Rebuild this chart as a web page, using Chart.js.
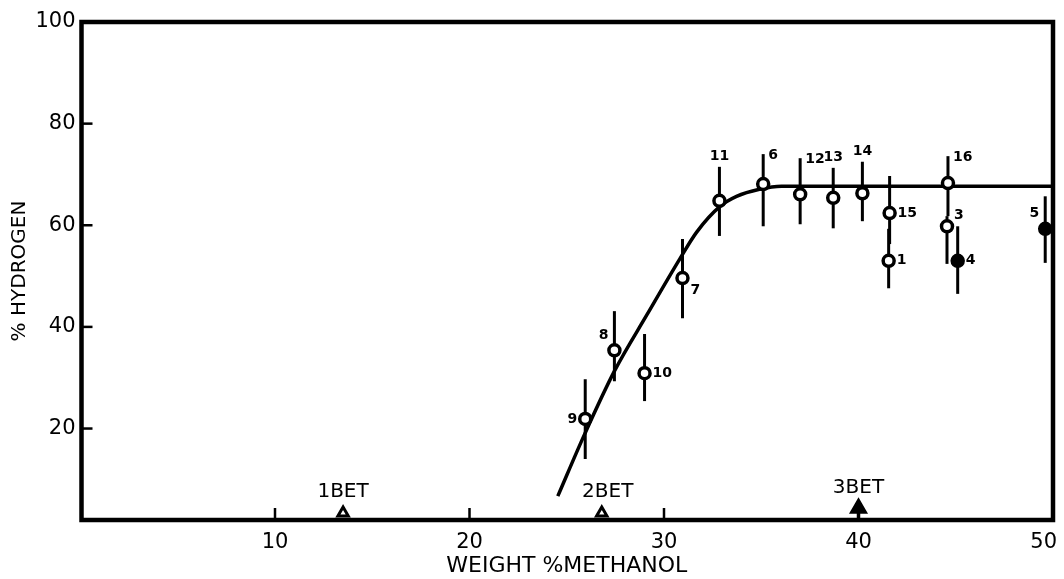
<!DOCTYPE html>
<html><head><meta charset="utf-8">
<script src="https://cdn.jsdelivr.net/npm/chart.js@4.4.1/dist/chart.umd.min.js"></script>
<style>html,body{margin:0;padding:0;background:#fff;} #wrap{width:1064px;height:579px;}</style>
</head><body><div id="wrap"><canvas id="c" width="1064" height="579"></canvas></div>
<script>
// ---- data ----
const pointIds     = ['9','8','10','7','11','6','12','13','14','15','1','16','3','4','5'];
const methanolPct  = [25.95, 27.45, 29.0, 30.95, 32.85, 35.1, 37.0, 38.7, 40.2, 41.6, 41.55, 44.6, 44.55, 45.1, 49.6];
const hydrogenPct  = [21.9, 35.4, 30.9, 49.6, 64.8, 68.1, 66.1, 65.4, 66.3, 62.4, 53.0, 68.3, 59.8, 53.0, 59.3];
const errLow       = [14.0, 29.3, 25.4, 41.7, 57.9, 59.8, 60.2, 59.4, 60.8, 56.3, 47.6, 61.8, 52.4, 46.5, 52.6];
const errHigh      = [29.7, 43.1, 38.6, 57.3, 71.5, 74.0, 73.2, 71.3, 72.5, 69.7, 59.3, 73.6, 61.8, 59.8, 65.7];
const labelSide    = ['left','upleft','right','downright','above','topright','topright','above','above','right','right','topright','upright','right','upleft'];
const filledIds    = ['4','5'];

const curveX = [24.54, 25.92, 27.45, 29.14, 30.83, 31.69, 32.91, 33.73, 34.91, 36.04, 49.9];
const curveY = [6.7, 18.9, 31.3, 42.5, 53.5, 58.7, 63.8, 65.7, 67.1, 67.7, 67.7];

const betNames = ['1BET', '2BET', '3BET'];
const betX     = [13.5, 26.8, 40.0];
const betY     = [3.4, 3.4, 4.3];

const xTicks = [10, 20, 30, 40, 50];
const yTicks = [20, 40, 60, 80, 100];
const xTitle = 'WEIGHT %METHANOL';
const yTitle = '% HYDROGEN';

const FONT = '"DejaVu Sans", "Liberation Sans", sans-serif';

const decor = {
  id: 'decor',
  beforeDraw(chart) {
    // keep the last x tick label ("50") inside the canvas, as in the reference
    const s = chart.scales.x;
    const items = s._labelItems || (s._labelItems = s._computeLabelItems(chart.chartArea));
    const last = items && items[items.length - 1];
    if (last && !last._shifted) { last.options.textAlign = 'right'; last.options.translation[0] += 4; last._shifted = true; }
  },
  beforeDatasetsDraw(chart) {
    const {ctx, chartArea: a, scales: {x, y}} = chart;
    ctx.save();
    ctx.strokeStyle = '#000';
    ctx.lineCap = 'butt';
    ctx.lineWidth = 2.5;
    yTicks.forEach(v => { if (v >= 100) return; const py = y.getPixelForValue(v); ctx.beginPath(); ctx.moveTo(a.left, py); ctx.lineTo(a.left + 12, py); ctx.stroke(); });
    xTicks.forEach(v => { if (v >= 50) return; const px = x.getPixelForValue(v); ctx.beginPath(); ctx.moveTo(px, a.bottom); ctx.lineTo(px, a.bottom - 12); ctx.stroke(); });
    ctx.lineWidth = 3;
    methanolPct.forEach((mx, i) => {
      const px = x.getPixelForValue(mx);
      ctx.beginPath();
      ctx.moveTo(px, y.getPixelForValue(errLow[i]));
      ctx.lineTo(px, y.getPixelForValue(errHigh[i]));
      ctx.stroke();
    });
    const sx = x.getPixelForValue(betX[2]);
    ctx.lineWidth = 3.5;
    ctx.beginPath(); ctx.moveTo(sx, y.getPixelForValue(betY[2])); ctx.lineTo(sx, a.bottom); ctx.stroke();
    ctx.restore();
  },
  afterDatasetsDraw(chart) {
    const {ctx, chartArea: a, scales: {x, y}} = chart;
    ctx.save();
    ctx.strokeStyle = '#000';
    ctx.lineWidth = 4.5;
    ctx.strokeRect(a.left + 1, a.top, a.right - a.left - 1, a.bottom - a.top);
    ctx.fillStyle = '#000';
    ctx.font = 'bold 14px ' + FONT;
    ctx.textBaseline = 'middle';
    pointIds.forEach((id, i) => {
      const px = x.getPixelForValue(methanolPct[i]);
      const py = y.getPixelForValue(hydrogenPct[i]);
      const ph = y.getPixelForValue(errHigh[i]);
      let tx = px, ty = py, al = 'left';
      switch (labelSide[i]) {
        case 'left': tx = px - 8; al = 'right'; break;
        case 'right': tx = px + 8; break;
        case 'upleft': tx = px - 6; ty = py - 15; al = 'right'; break;
        case 'downright': tx = px + 8; ty = py + 12; break;
        case 'upright': tx = px + 7; ty = py - 11; break;
        case 'above': ty = ph - 10; al = 'center'; break;
        case 'topright': tx = px + 5; ty = ph + 1; break;
      }
      ctx.textAlign = al;
      ctx.fillText(id, tx, ty);
    });
    ctx.font = '20px ' + FONT;
    ctx.textAlign = 'center';
    betNames.forEach((n, i) => {
      ctx.fillText(n, x.getPixelForValue(betX[i]) + (i === 1 ? 6 : 0), y.getPixelForValue(betY[i]) - 21);
    });
    ctx.restore();
  }
};

new Chart(document.getElementById('c'), {
  data: {
    datasets: [
      {
        type: 'scatter', label: 'points',
        data: methanolPct.map((v, i) => ({x: v, y: hydrogenPct[i]})),
        pointStyle: 'circle', pointRadius: 5.5, pointBorderWidth: 3.5,
        pointBorderColor: '#000',
        pointBackgroundColor: pointIds.map(id => filledIds.includes(id) ? '#000' : '#fff'),
        order: 0
      },
      {
        type: 'scatter', label: 'bet',
        data: betX.map((v, i) => ({x: v, y: betY[i]})),
        pointStyle: 'triangle', pointRadius: [6, 6, 8], pointBorderWidth: 3,
        pointBorderColor: '#000',
        pointBackgroundColor: ['#fff', '#fff', '#000'],
        order: 1
      },
      {
        type: 'line', label: 'curve',
        data: curveX.map((v, i) => ({x: v, y: curveY[i]})),
        borderColor: '#000', borderWidth: 3.5, pointRadius: 0,
        cubicInterpolationMode: 'monotone', fill: false,
        order: 2
      }
    ]
  },
  options: {
    responsive: false, animation: false, devicePixelRatio: 1,
    layout: {padding: {top: 22, right: 6, left: 0, bottom: 0}},
    plugins: {legend: {display: false}, tooltip: {enabled: false}},
    scales: {
      x: {
        type: 'linear', min: 0, max: 50,
        afterBuildTicks: s => { s.ticks = xTicks.map(v => ({value: v})); },
        afterFit: s => { s.height = 59; s.paddingLeft = 0; s.paddingRight = 0; },
        grid: {display: false, drawTicks: false},
        border: {display: false},
        ticks: {color: '#000', padding: 10, font: {family: FONT, size: 21}, maxRotation: 0},
        title: {display: true, text: xTitle, color: '#000', font: {family: FONT, size: 22}, padding: {top: 0, bottom: 0}}
      },
      y: {
        type: 'linear', min: 2, max: 100,
        afterBuildTicks: s => { s.ticks = yTicks.map(v => ({value: v})); },
        afterFit: s => { s.width = 80.5; s.paddingTop = 0; s.paddingBottom = 0; },
        grid: {display: false, drawTicks: false},
        border: {display: false},
        ticks: {color: '#000', padding: 5, font: {family: FONT, size: 21}},
        title: {display: true, text: yTitle, color: '#000', font: {family: FONT, size: 20}, padding: {top: 8, bottom: 0}}
      }
    }
  },
  plugins: [decor]
});
</script></body></html>
